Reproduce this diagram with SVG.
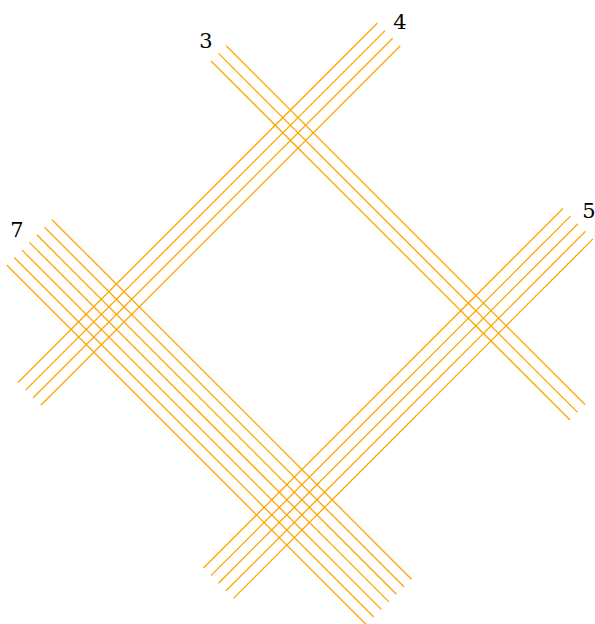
<svg xmlns="http://www.w3.org/2000/svg" width="595" height="624" viewBox="0 0 595 624">
<style>
line{stroke:#FFA500;stroke-width:1.3;fill:none}
text{font-family:"DejaVu Serif","Liberation Serif",serif;font-size:21px;fill:#000;text-anchor:middle}
</style>
<rect width="595" height="624" fill="#fff"/>
<g id="strand3">
<line x1="211" y1="61" x2="570" y2="420"/>
<line x1="218.6" y1="53.4" x2="577.6" y2="412.4"/>
<line x1="226.2" y1="45.8" x2="585.2" y2="404.8"/>
<text x="206" y="48">3</text>
</g>
<g id="strand4">
<line x1="377.5" y1="23" x2="18" y2="382.5"/>
<line x1="385.1" y1="30.6" x2="25.6" y2="390.1"/>
<line x1="392.7" y1="38.2" x2="33.2" y2="397.7"/>
<line x1="400.3" y1="45.8" x2="40.8" y2="405.3"/>
<text x="400" y="29">4</text>
</g>
<g id="strand5">
<line x1="563" y1="208.5" x2="203.5" y2="568"/>
<line x1="570.5" y1="216.1" x2="211" y2="575.6"/>
<line x1="578" y1="223.7" x2="218.5" y2="583.2"/>
<line x1="585.5" y1="231.3" x2="226" y2="590.8"/>
<line x1="593" y1="238.9" x2="233.5" y2="598.4"/>
<text x="589" y="218">5</text>
</g>
<g id="strand7">
<line x1="6.7" y1="265" x2="366.2" y2="624.5"/>
<line x1="14.25" y1="257.45" x2="373.75" y2="616.95"/>
<line x1="21.8" y1="249.9" x2="381.3" y2="609.4"/>
<line x1="29.35" y1="242.35" x2="388.85" y2="601.85"/>
<line x1="36.9" y1="234.8" x2="396.4" y2="594.3"/>
<line x1="44.45" y1="227.25" x2="403.95" y2="586.75"/>
<line x1="52" y1="219.7" x2="411.5" y2="579.2"/>
<text x="17" y="237">7</text>
</g>
<g id="connectors"></g>
</svg>
